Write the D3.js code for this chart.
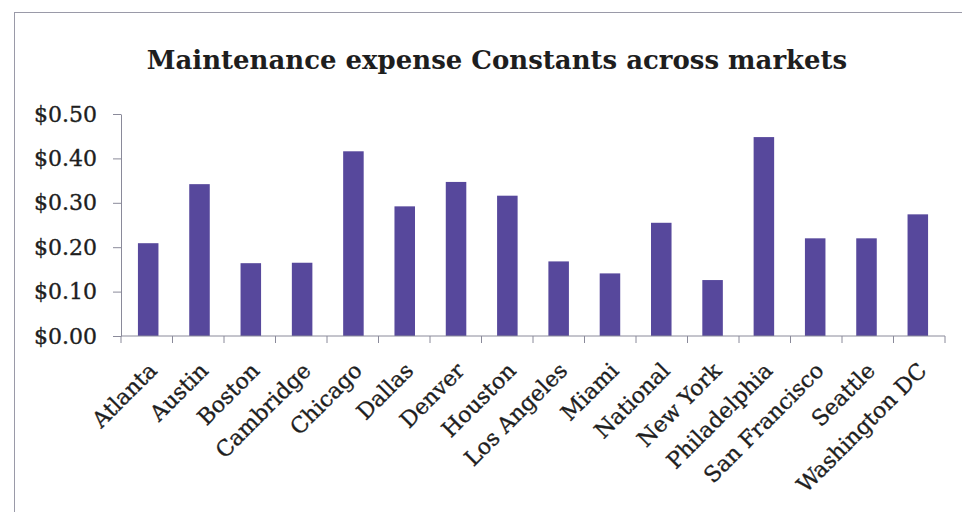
<!DOCTYPE html>
<html>
<head>
<meta charset="utf-8">
<script src="https://cdn.jsdelivr.net/npm/d3@7"></script>
<style>
  html, body { margin: 0; padding: 0; background: #fff; }
  svg { display: block; }
  text { font-family: "DejaVu Serif", "Liberation Serif", serif; fill: #1e1e1e; }
  .lbl, .tick text { stroke: #1e1e1e; stroke-width: 0.35px; }
</style>
</head>
<body>
<svg id="chart" width="962" height="512"></svg>
<script>
// Maintenance expense constants by market ($ per unit)
const markets = ["Atlanta", "Austin", "Boston", "Cambridge", "Chicago", "Dallas", "Denver",
  "Houston", "Los Angeles", "Miami", "National", "New York", "Philadelphia",
  "San Francisco", "Seattle", "Washington DC"];
const constants = [0.209, 0.342, 0.164, 0.165, 0.416, 0.292, 0.347,
  0.316, 0.168, 0.141, 0.255, 0.126, 0.448, 0.220, 0.220, 0.274];
const yTicks = [0, 0.1, 0.2, 0.3, 0.4, 0.5];
const title = "Maintenance expense Constants across markets";

const svg = d3.select("#chart");
const margin = { left: 121, right: 17, top: 114, bottom: 176 };
const W = 962, H = 512;
const axisColor = "#8a8a9a";

// Outer chart frame
svg.append("rect")
  .attr("x", 14.5).attr("y", 12.5)
  .attr("width", 980).attr("height", 540)
  .attr("fill", "none").attr("stroke", "#9a9aa8").attr("stroke-width", 1);

const x = d3.scaleBand()
  .domain(markets)
  .range([margin.left, W - margin.right])
  .paddingInner(0.6).paddingOuter(0.33);

const y = d3.scaleLinear()
  .domain([0, 0.5])
  .range([H - margin.bottom, margin.top]);

// Bars
svg.append("g")
  .selectAll("rect")
  .data(markets)
  .join("rect")
  .attr("x", (d) => x(d))
  .attr("width", x.bandwidth())
  .attr("y", (d, i) => y(constants[i]))
  .attr("height", (d, i) => y(0) - y(constants[i]))
  .attr("fill", "#57489c");

// Y axis
const yAxis = svg.append("g")
  .attr("transform", `translate(${margin.left},0)`)
  .call(d3.axisLeft(y).tickValues(yTicks).tickFormat(d3.format("$.2f"))
    .tickSizeInner(8).tickSizeOuter(0).tickPadding(16));
yAxis.select(".domain").attr("stroke", axisColor);
yAxis.selectAll(".tick line").attr("stroke", axisColor);
yAxis.selectAll(".tick text")
  .attr("font-size", 22).attr("fill", "#1e1e1e")
  .attr("font-family", "DejaVu Serif, serif");

// X axis with tick marks on the category boundaries
const xAxisG = svg.append("g").attr("transform", `translate(0,${y(0)})`);
const boundaries = d3.range(markets.length + 1)
  .map((i) => margin.left + i * (W - margin.right - margin.left) / markets.length);
xAxisG.append("line")
  .attr("x1", margin.left).attr("x2", W - margin.right)
  .attr("stroke", axisColor);
xAxisG.selectAll("line.tick")
  .data(boundaries)
  .join("line")
  .attr("class", "tick")
  .attr("x1", (d) => d).attr("x2", (d) => d)
  .attr("y1", 0).attr("y2", 7)
  .attr("stroke", axisColor);

// Rotated category labels
xAxisG.selectAll("text.lbl")
  .data(markets)
  .join("text")
  .attr("class", "lbl")
  .attr("text-anchor", "end")
  .attr("font-size", 22)
  .attr("transform", (d) => `translate(${x(d) + x.bandwidth() / 2 + 10},${36}) rotate(-45)`)
  .text((d) => d);

// Title, sized to span its slot
const t = svg.append("text")
  .attr("x", 497).attr("y", 69)
  .attr("text-anchor", "middle")
  .attr("font-size", 26)
  .attr("font-weight", "bold")
  .text(title);
const tw = t.node().getComputedTextLength();
t.attr("font-size", 26 * 701 / tw);
</script>
</body>
</html>
